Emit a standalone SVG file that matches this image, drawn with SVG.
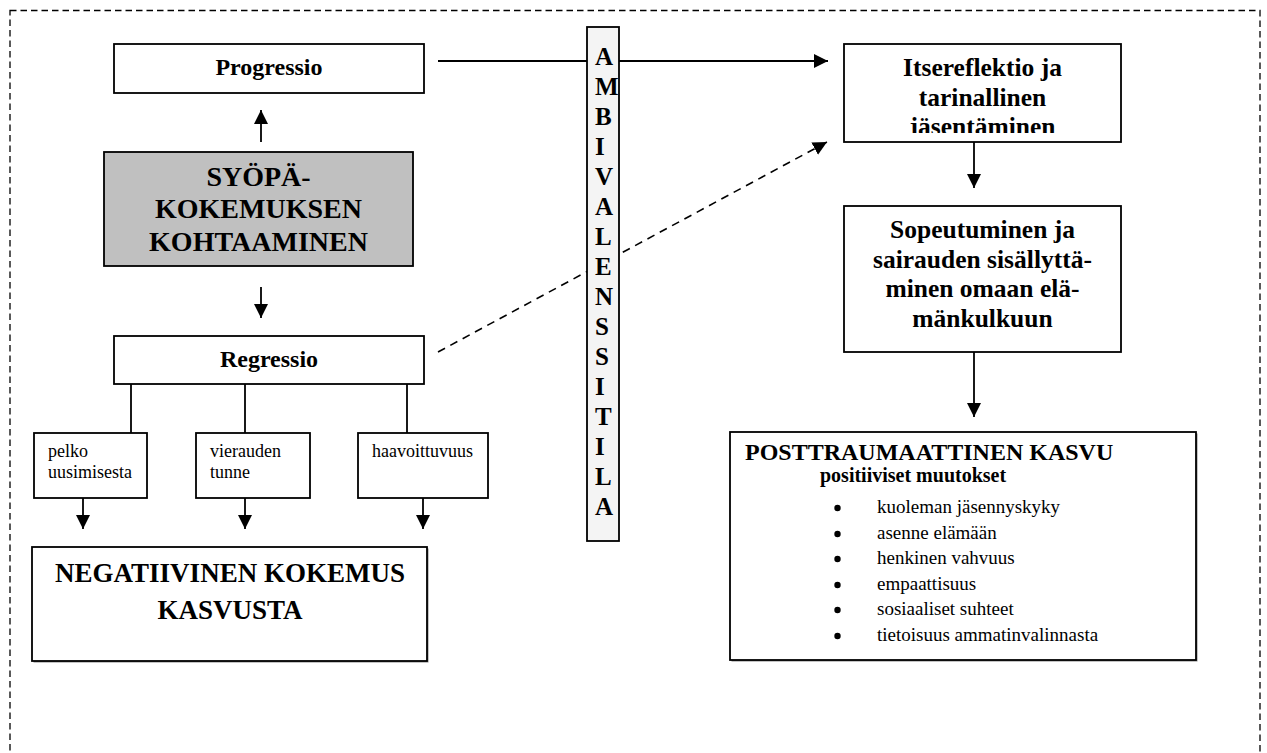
<svg xmlns="http://www.w3.org/2000/svg" width="1267" height="753" viewBox="0 0 1267 753">
<style>
.box{fill:#fff;stroke:#000;stroke-width:1.8}
.gray{fill:#c0c0c0;stroke:#000;stroke-width:1.8}
.col{fill:#f4f4f4;stroke:#000;stroke-width:1.8}
.b{font-family:"Liberation Serif","Times New Roman",serif;font-weight:bold;fill:#000}
.r{font-family:"Liberation Serif","Times New Roman",serif;fill:#000}
.c{text-anchor:middle}
.ln{stroke:#000;stroke-width:1.8;fill:none}
.dash{stroke:#000;stroke-width:1.6;fill:none;stroke-dasharray:8 6}
</style>
<defs>
<marker id="ah" viewBox="0 0 14 14" refX="14" refY="7" markerWidth="14" markerHeight="14" markerUnits="userSpaceOnUse" orient="auto">
<path d="M0,0 L14,7 L0,14 z" fill="#000" stroke="none"/>
</marker>
<clipPath id="clipIts"><rect x="844" y="44" width="277" height="89"/></clipPath>
</defs>
<rect x="10" y="10.5" width="1250" height="800" fill="none" stroke="#000" stroke-width="1.3" stroke-dasharray="6.5 4"/>
<g id="connectors">
<line class="ln" x1="261" y1="142" x2="261" y2="110" marker-end="url(#ah)"/>
<line class="ln" x1="261" y1="287" x2="261" y2="318" marker-end="url(#ah)"/>
<line class="ln" x1="438" y1="61" x2="828" y2="61" marker-end="url(#ah)"/>
<line class="dash" x1="438" y1="352" x2="827" y2="142" marker-end="url(#ah)"/>
<line class="ln" x1="131" y1="384" x2="131" y2="433"/>
<line class="ln" x1="245" y1="384" x2="245" y2="433"/>
<line class="ln" x1="407" y1="384" x2="407" y2="433"/>
<line class="ln" x1="83" y1="498" x2="83" y2="529" marker-end="url(#ah)"/>
<line class="ln" x1="245" y1="498" x2="245" y2="529" marker-end="url(#ah)"/>
<line class="ln" x1="423" y1="498" x2="423" y2="529" marker-end="url(#ah)"/>
<line class="ln" x1="974" y1="142" x2="974" y2="188" marker-end="url(#ah)"/>
<line class="ln" x1="974" y1="352" x2="974" y2="417" marker-end="url(#ah)"/>
</g>
<g id="progressio">
<rect class="box" x="114" y="44" width="310" height="49"/>
<text class="b c" x="269" y="75" font-size="24">Progressio</text>
</g>
<g id="syopa">
<rect class="gray" x="104" y="152" width="309" height="114"/>
<text class="b c" x="258.5" y="186" font-size="28">SYÖPÄ-</text>
<text class="b c" x="258.5" y="218" font-size="28">KOKEMUKSEN</text>
<text class="b c" x="258.5" y="251" font-size="28">KOHTAAMINEN</text>
</g>
<g id="regressio">
<rect class="box" x="114" y="336" width="310" height="48"/>
<text class="b c" x="269" y="367" font-size="24">Regressio</text>
</g>
<g id="pelko">
<rect class="box" x="34" y="433" width="113" height="65"/>
<text class="r" x="48" y="457" font-size="18">pelko</text>
<text class="r" x="48" y="478" font-size="18">uusimisesta</text>
</g>
<g id="vierauden">
<rect class="box" x="196" y="433" width="114" height="65"/>
<text class="r" x="210" y="457" font-size="18">vierauden</text>
<text class="r" x="210" y="478" font-size="18">tunne</text>
</g>
<g id="haavoittuvuus">
<rect class="box" x="358" y="433" width="130" height="65"/>
<text class="r" x="372" y="457" font-size="18">haavoittuvuus</text>
</g>
<g id="negatiivinen">
<rect x="33.5" y="548.5" width="395" height="114" fill="#888" stroke="none"/>
<rect class="box" x="32" y="547" width="395" height="114"/>
<text class="b c" x="230" y="582" font-size="27">NEGATIIVINEN KOKEMUS</text>
<text class="b c" x="230" y="619" font-size="27">KASVUSTA</text>
</g>
<g id="ambivalenssitila">
<rect class="col" x="587" y="27" width="32" height="514"/>
<text class="b" font-size="25">
<tspan x="595" y="65">A</tspan>
<tspan x="595" y="95">M</tspan>
<tspan x="595" y="125">B</tspan>
<tspan x="595" y="155">I</tspan>
<tspan x="595" y="185">V</tspan>
<tspan x="595" y="215">A</tspan>
<tspan x="595" y="245">L</tspan>
<tspan x="595" y="275">E</tspan>
<tspan x="595" y="305">N</tspan>
<tspan x="595" y="335">S</tspan>
<tspan x="595" y="365">S</tspan>
<tspan x="595" y="395">I</tspan>
<tspan x="595" y="425">T</tspan>
<tspan x="595" y="455">I</tspan>
<tspan x="595" y="485">L</tspan>
<tspan x="595" y="515">A</tspan>
</text>
</g>
<g id="itsereflektio">
<rect class="box" x="844" y="44" width="277" height="98"/>
<g clip-path="url(#clipIts)">
<text class="b c" x="982.5" y="76" font-size="25.5">Itsereflektio ja</text>
<text class="b c" x="982.5" y="106" font-size="25.5">tarinallinen</text>
<text class="b c" x="982.5" y="135" font-size="25.5">jäsentäminen</text>
</g>
</g>
<g id="sopeutuminen">
<rect class="box" x="844" y="206" width="277" height="146"/>
<text class="b c" x="982.5" y="238" font-size="25.5">Sopeutuminen ja</text>
<text class="b c" x="982.5" y="268" font-size="25.5">sairauden sisällyttä-</text>
<text class="b c" x="982.5" y="297" font-size="25.5">minen omaan elä-</text>
<text class="b c" x="982.5" y="327" font-size="25.5">mänkulkuun</text>
</g>
<g id="posttraumaattinen">
<rect x="731.5" y="433.5" width="466" height="228" fill="#888" stroke="none"/>
<rect class="box" x="730" y="432" width="466" height="228"/>
<text class="b" x="745" y="460" font-size="24">POSTTRAUMAATTINEN KASVU</text>
<text class="b" x="820" y="482" font-size="20">positiiviset muutokset</text>
<g fill="#000">
<circle cx="837.5" cy="508" r="3.2"/>
<circle cx="837.5" cy="534" r="3.2"/>
<circle cx="837.5" cy="559" r="3.2"/>
<circle cx="837.5" cy="585" r="3.2"/>
<circle cx="837.5" cy="610" r="3.2"/>
<circle cx="837.5" cy="636" r="3.2"/>
</g>
<text class="r" x="877" y="513" font-size="19">kuoleman jäsennyskyky</text>
<text class="r" x="877" y="539" font-size="19">asenne elämään</text>
<text class="r" x="877" y="564" font-size="19">henkinen vahvuus</text>
<text class="r" x="877" y="590" font-size="19">empaattisuus</text>
<text class="r" x="877" y="615" font-size="19">sosiaaliset suhteet</text>
<text class="r" x="877" y="641" font-size="19">tietoisuus ammatinvalinnasta</text>
</g>
</svg>
